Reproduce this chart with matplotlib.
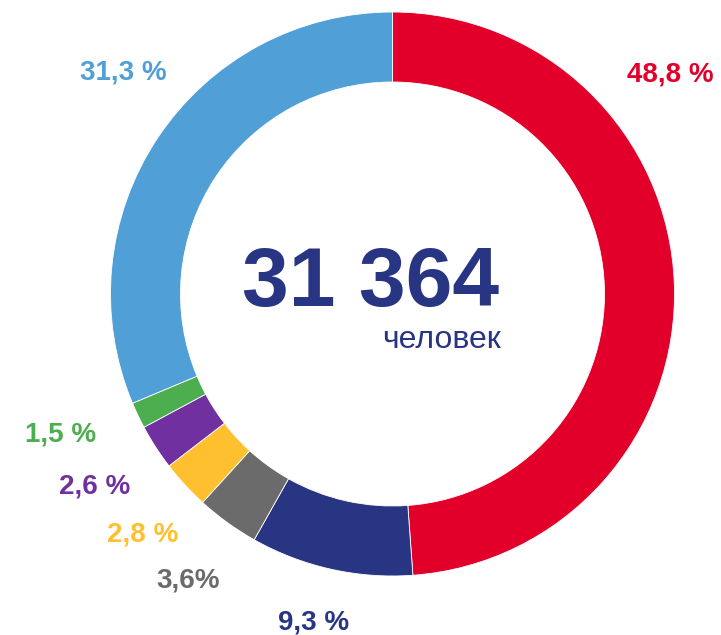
import matplotlib
matplotlib.use("Agg")
import matplotlib.pyplot as plt

plt.rcParams['font.family'] = ['Liberation Sans', 'DejaVu Sans']

shares = [48.8, 9.3, 3.6, 2.8, 2.6, 1.5, 31.3]
labels = ["48,8 %", "9,3 %", "3,6%", "2,8 %", "2,6 %", "1,5 %", "31,3 %"]
colors = ["#E2002B", "#283583", "#6B6B6B", "#FEC02F", "#7030A0", "#4DAE50", "#519FD7"]
total = "31 364"
unit = "человек"

# label anchors in pixels from top-left: (centre x, baseline y)
label_pos = [(670, 82), (314, 630), (188, 588), (143, 541), (95, 494), (61, 442), (123, 80)]

W, H = 721, 635
fig = plt.figure(figsize=(W / 100, H / 100), dpi=100)
ax = fig.add_axes([0, 0, 1, 1])

cx, cy = 392.5, H - 294
ax.pie(shares, colors=colors, startangle=90, counterclock=False,
       center=(cx, cy), radius=282,
       wedgeprops=dict(width=70, edgecolor="white", linewidth=0.6))
ax.set_xlim(0, W)
ax.set_ylim(0, H)
ax.set_aspect("equal")
ax.axis("off")

for lab, (x, y), c in zip(labels, label_pos, colors):
    ax.text(x, H - y, lab, color=c, fontsize=20, fontweight="bold",
            ha="center", va="baseline")

ax.text(371, H - 306, total, color="#283583", fontsize=60.5, fontweight="bold",
        ha="center", va="baseline")
ax.text(441, H - 348, unit, color="#283583", fontsize=23,
        ha="center", va="baseline")

fig.savefig("out.png", dpi=100)
